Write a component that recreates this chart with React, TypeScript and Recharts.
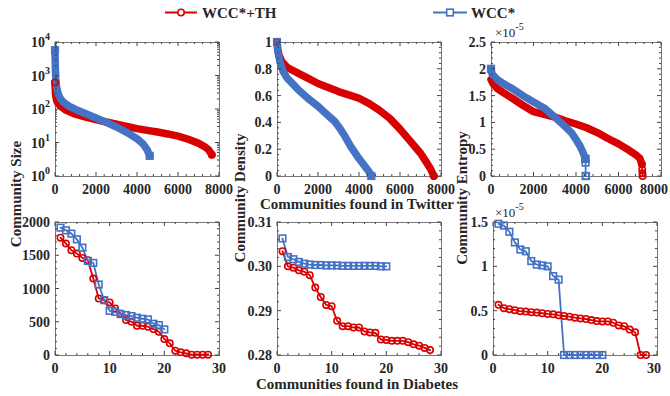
import React from "react";
import { LineChart, Line, XAxis, YAxis } from "recharts";

const RED = "#d80000";
const BLUE = "#4472c4";
const INK = "#262626";
const FONT = "'Liberation Serif', 'Times New Roman', serif";

type P = [number, number];

// Twitter (top row): [community rank, value]
const twSizeTh: P[] = [
  [0, 620], [10, 420], [30, 260], [80, 180], [150, 145], [300, 118], [500, 95],
  [1000, 70], [1500, 57], [2000, 48], [2500, 41], [3000, 35], [3500, 30],
  [4000, 26], [4500, 23], [5000, 20.5], [5500, 18], [6000, 15.5], [6500, 12.5],
  [7000, 9.5], [7300, 7.5], [7500, 6], [7650, 4.3],
];
const twSizeWcc: P[] = [
  [0, 5700], [8, 3000], [20, 1500], [40, 800], [80, 450], [150, 290], [250, 210],
  [400, 160], [700, 120], [1000, 97], [1500, 72], [2000, 54], [2500, 40],
  [3000, 29], [3500, 20], [4000, 13], [4300, 9], [4500, 6], [4620, 4],
];
const twDenTh: P[] = [
  [0, 1], [30, 0.95], [100, 0.9], [250, 0.85], [500, 0.81], [1000, 0.77],
  [1500, 0.73], [2000, 0.69], [2500, 0.66], [3000, 0.63], [3500, 0.605],
  [4000, 0.58], [4500, 0.54], [5000, 0.49], [5500, 0.43], [6000, 0.35],
  [6500, 0.26], [7000, 0.17], [7300, 0.1], [7500, 0.05], [7650, 0],
];
const twDenWcc: P[] = [
  [0, 1], [50, 0.92], [150, 0.85], [300, 0.78], [500, 0.73], [1000, 0.65],
  [1500, 0.58], [2000, 0.52], [2500, 0.45], [2800, 0.41], [3000, 0.37],
  [3300, 0.3], [3600, 0.22], [4000, 0.13], [4300, 0.07], [4500, 0.03], [4600, 0],
];
const twEntTh: P[] = [
  [0, 1.8e-5], [100, 1.72e-5], [300, 1.63e-5], [600, 1.55e-5], [1000, 1.45e-5],
  [1500, 1.32e-5], [2000, 1.2e-5], [2500, 1.15e-5], [3000, 1.1e-5],
  [3500, 1.03e-5], [4000, 0.97e-5], [4500, 0.9e-5], [5000, 0.81e-5],
  [5500, 0.7e-5], [6000, 0.6e-5], [6500, 0.48e-5], [6800, 0.4e-5],
  [7000, 0.33e-5], [7100, 0.22e-5],
];
const twEntThTail: P[] = [[7100, 0.22e-5], [7115, 0.12e-5], [7125, 0.05e-5], [7135, 0]];
const twEntWcc: P[] = [
  [0, 2.0e-5], [50, 1.9e-5], [300, 1.8e-5], [600, 1.72e-5], [1000, 1.63e-5],
  [1500, 1.5e-5], [2000, 1.38e-5], [2500, 1.27e-5], [3000, 1.1e-5],
  [3500, 0.92e-5], [3800, 0.8e-5], [4000, 0.68e-5], [4200, 0.55e-5],
  [4350, 0.42e-5], [4440, 0.32e-5],
];
const twEntWccTail: P[] = [[4440, 0.32e-5], [4450, 0.25e-5], [4455, 0], [4470, 0]];

// Diabetes (bottom row): values for communities 1..n
const dbSizeTh = [1765, 1675, 1575, 1525, 1460, 1425, 1150, 850, 825, 790, 700, 625, 525, 500, 440, 440, 425, 390, 350, 240, 175, 65, 40, 25, 5, 5, 5, 5];
const dbSizeWcc = [1915, 1875, 1825, 1740, 1615, 1415, 1385, 1060, 825, 665, 650, 615, 600, 585, 560, 545, 535, 470, 450, 385];
const dbDenTh = [0.3034, 0.3, 0.2997, 0.2991, 0.2988, 0.298, 0.2952, 0.2931, 0.2913, 0.291, 0.2877, 0.2865, 0.2865, 0.2862, 0.2862, 0.2853, 0.2851, 0.285, 0.2835, 0.2834, 0.2832, 0.2832, 0.2832, 0.2829, 0.2824, 0.2821, 0.2816, 0.2811];
const dbDenWcc = [0.3063, 0.3021, 0.3016, 0.301, 0.3006, 0.3004, 0.3003, 0.3003, 0.3002, 0.3002, 0.3002, 0.3001, 0.3001, 0.3001, 0.3001, 0.3001, 0.3001, 0.3001, 0.3, 0.3];
const dbEntTh = [0.566e-5, 0.528e-5, 0.517e-5, 0.505e-5, 0.494e-5, 0.49e-5, 0.482e-5, 0.478e-5, 0.471e-5, 0.463e-5, 0.459e-5, 0.448e-5, 0.44e-5, 0.432e-5, 0.421e-5, 0.413e-5, 0.406e-5, 0.394e-5, 0.383e-5, 0.379e-5, 0.379e-5, 0.364e-5, 0.333e-5, 0.325e-5, 0.287e-5, 0.256e-5, 0, 0];
const dbEntWcc = [1.48e-5, 1.46e-5, 1.39e-5, 1.27e-5, 1.19e-5, 1.17e-5, 1.06e-5, 1.02e-5, 1.01e-5, 1.0e-5, 0.89e-5, 0.85e-5, 0, 0, 0, 0, 0, 0, 0, 0];

// tick labels
const twX = [0, 2000, 4000, 6000, 8000];
const dbX = [0, 10, 20, 30];
const sizeLogY = [1, 10, 100, 1000, 10000];
const twDenY = [0, 0.2, 0.4, 0.6, 0.8, 1];
const twEntY = [0, 0.5e-5, 1e-5, 1.5e-5, 2e-5, 2.5e-5];
const dbSizeY = [0, 500, 1000, 1500, 2000];
const dbDenY = [0.28, 0.29, 0.3, 0.31];
const dbEntY = [0, 0.5e-5, 1e-5, 1.5e-5];

const steps = (a: number, b: number, s: number) => {
  const out: number[] = [];
  for (let v = a; v <= b + s / 1000; v += s) out.push(+v.toPrecision(8));
  return out;
};
const logMinor: number[] = [];
[1, 10, 100, 1000].forEach((d) => [2, 3, 4, 5, 6, 7, 8, 9].forEach((k) => logMinor.push(d * k)));

const pts = (arr: P[]) => arr.map(([x, y]) => ({ x, y }));
const idx = (arr: number[]) => arr.map((y, i) => ({ x: i + 1, y }));
const isMaj = (arr: number[], v: number) =>
  arr.some((m) => Math.abs(m - v) <= Math.abs(m) * 1e-6 + 1e-15);

type Series = {
  data: { x: number; y: number }[];
  color: string;
  mark: "o" | "s";
  band?: boolean;
  ends?: boolean;
};

const marker = (color: string, mark: "o" | "s", cx: number, cy: number, key: string) =>
  mark === "o" ? (
    <circle key={key} cx={cx} cy={cy} r={3.2} fill="none" stroke={color} strokeWidth={1.6} />
  ) : (
    <rect key={key} x={cx - 3.3} y={cy - 3.3} width={6.6} height={6.6} fill="none" stroke={color} strokeWidth={1.6} />
  );

function Panel(props: {
  left: number; top: number; w: number; h: number;
  xDom: number[]; xMaj: number[]; xMin: number[];
  yDom: number[]; yMaj: number[]; yMin: number[];
  log?: boolean; yFmt: (v: number) => string; series: Series[];
}) {
  const { left, top, w, h, xDom, xMaj, xMin, yDom, yMaj, yMin, log, yFmt, series } = props;
  const ML = 50, MT = 20, MR = 30, MB = 30;
  const yb = MT + h;

  const XTick = (p: any) => {
    const x = p.x;
    const v = p.payload.value;
    const major = isMaj(xMaj, v);
    const len = major ? 4 : 2;
    // keep the last label inside the 670px page
    const gx = left - ML + x;
    const shift = Math.min(0, 668 - (gx + 14));
    return (
      <g>
        <line x1={x} x2={x} y1={yb} y2={yb - len} stroke="#444" />
        <line x1={x} x2={x} y1={MT} y2={MT + len} stroke="#444" />
        {major && (
          <text x={x + shift} y={yb + 18} textAnchor="middle" fontFamily={FONT} fontWeight="bold" fontSize={14} fill={INK}>
            {v}
          </text>
        )}
      </g>
    );
  };

  const YTick = (p: any) => {
    const y = p.y;
    const v = p.payload.value;
    const major = isMaj(yMaj, v);
    const len = major ? 4 : 2;
    let label: React.ReactNode = null;
    if (major) {
      label = log ? (
        <text x={ML - 5} y={y + 5} textAnchor="end" fontFamily={FONT} fontWeight="bold" fontSize={14} fill={INK}>
          10<tspan dy={-7} fontSize={10}>{Math.round(Math.log10(v))}</tspan>
        </text>
      ) : (
        <text x={ML - 5} y={y + 5} textAnchor="end" fontFamily={FONT} fontWeight="bold" fontSize={14} fill={INK}>
          {yFmt(v)}
        </text>
      );
    }
    return (
      <g>
        <line x1={ML} x2={ML + len} y1={y} y2={y} stroke="#444" />
        <line x1={ML + w} x2={ML + w - len} y1={y} y2={y} stroke="#444" />
        {label}
      </g>
    );
  };

  const xTicks = [...xMaj, ...xMin.filter((v) => !isMaj(xMaj, v))];
  const yTicks = [...yMaj, ...yMin.filter((v) => !isMaj(yMaj, v))];
  const W = w + ML + MR;
  const H = h + MT + MB;

  return (
    <div style={{ position: "absolute", left: left - ML, top: top - MT, width: W, height: H }}>
      <div
        style={{
          position: "absolute", left: ML, top: MT, width: w + 1, height: h + 1,
          border: "1px solid #777", boxSizing: "border-box",
        }}
      />
      <div style={{ position: "absolute", left: 0, top: 0 }}>
        <LineChart width={W} height={H} margin={{ top: MT, right: MR, bottom: 0, left: 0 }} style={{ overflow: "visible" }}>
          <XAxis
            xAxisId="x" type="number" dataKey="x" domain={xDom} ticks={xTicks} interval={0}
            tick={XTick} tickLine={false} axisLine={false} height={MB}
          />
          <YAxis
            yAxisId="y" type="number" scale={log ? "log" : "linear"} domain={yDom} ticks={yTicks}
            interval={0} tick={YTick} tickLine={false} axisLine={false} width={ML}
          />
          {series.map((s, i) => (
            <Line
              key={i}
              xAxisId="x"
              yAxisId="y"
              data={s.data}
              dataKey="y"
              stroke={s.color}
              strokeWidth={s.band ? 7.5 : 1.8}
              strokeLinejoin="round"
              strokeLinecap="round"
              isAnimationActive={false}
              activeDot={false}
              dot={(p: any) => {
                const n = s.data.length;
                const show = s.band ? s.ends && (p.index === 0 || p.index === n - 1) : true;
                if (!show) return <g key={`d${i}-${p.index}`} />;
                return marker(s.color, s.mark, p.cx, p.cy, `d${i}-${p.index}`);
              }}
            />
          ))}
        </LineChart>
      </div>
    </div>
  );
}

const entFmt = (v: number) => String(+(v * 1e5).toFixed(1));

export default function App() {
  const labelStyle = { fontFamily: FONT, fontWeight: "bold" as const, fontSize: 15, fill: INK };
  return (
    <div style={{ position: "absolute", left: 0, top: 0, width: 670, height: 396, background: "#fff", overflow: "hidden" }}>
      <Panel
        left={55} top={42} w={164} h={134}
        xDom={[0, 8000]} xMaj={twX} xMin={steps(0, 8000, 400)}
        yDom={[1, 10000]} yMaj={sizeLogY} yMin={logMinor} log yFmt={String}
        series={[
          { data: pts(twSizeTh), color: RED, mark: "o", band: true, ends: true },
          { data: pts(twSizeWcc), color: BLUE, mark: "s", band: true, ends: true },
        ]}
      />
      <Panel
        left={277} top={42} w={164} h={134}
        xDom={[0, 8000]} xMaj={twX} xMin={steps(0, 8000, 400)}
        yDom={[0, 1]} yMaj={twDenY} yMin={steps(0, 1, 0.04)} yFmt={String}
        series={[
          { data: pts(twDenTh), color: RED, mark: "o", band: true, ends: true },
          { data: pts(twDenWcc), color: BLUE, mark: "s", band: true, ends: true },
        ]}
      />
      <Panel
        left={491} top={42} w={170} h={134}
        xDom={[0, 8000]} xMaj={twX} xMin={steps(0, 8000, 400)}
        yDom={[0, 2.5e-5]} yMaj={twEntY} yMin={steps(0, 2.5e-5, 0.1e-5)} yFmt={entFmt}
        series={[
          { data: pts(twEntTh), color: RED, mark: "o", band: true },
          { data: pts(twEntThTail), color: RED, mark: "o" },
          { data: pts(twEntWcc), color: BLUE, mark: "s", band: true, ends: true },
          { data: pts(twEntWccTail), color: BLUE, mark: "s" },
        ]}
      />
      <Panel
        left={55} top={222} w={164} h={133}
        xDom={[0, 30]} xMaj={dbX} xMin={steps(0, 30, 2)}
        yDom={[0, 2000]} yMaj={dbSizeY} yMin={steps(0, 2000, 100)} yFmt={String}
        series={[
          { data: idx(dbSizeTh), color: RED, mark: "o" },
          { data: idx(dbSizeWcc), color: BLUE, mark: "s" },
        ]}
      />
      <Panel
        left={277} top={222} w={164} h={133}
        xDom={[0, 30]} xMaj={dbX} xMin={steps(0, 30, 2)}
        yDom={[0.28, 0.31]} yMaj={dbDenY} yMin={steps(0.28, 0.31, 0.002)} yFmt={(v) => v.toFixed(2)}
        series={[
          { data: idx(dbDenTh), color: RED, mark: "o" },
          { data: idx(dbDenWcc), color: BLUE, mark: "s" },
        ]}
      />
      <Panel
        left={493} top={222} w={164} h={133}
        xDom={[0, 30]} xMaj={dbX} xMin={steps(0, 30, 2)}
        yDom={[0, 1.5e-5]} yMaj={dbEntY} yMin={steps(0, 1.5e-5, 0.1e-5)} yFmt={entFmt}
        series={[
          { data: idx(dbEntTh), color: RED, mark: "o" },
          { data: idx(dbEntWcc), color: BLUE, mark: "s" },
        ]}
      />

      <svg width={670} height={396} style={{ position: "absolute", left: 0, top: 0, pointerEvents: "none" }}>
        <line x1={165} x2={197} y1={12.5} y2={12.5} stroke={RED} strokeWidth={2} />
        <circle cx={181} cy={12.5} r={3.2} fill="#fff" stroke={RED} strokeWidth={1.6} />
        <text x={202} y={17.5} {...labelStyle}>WCC*+TH</text>
        <line x1={433} x2={467} y1={12.5} y2={12.5} stroke={BLUE} strokeWidth={2} />
        <rect x={446.7} y={9.2} width={6.6} height={6.6} fill="#fff" stroke={BLUE} strokeWidth={1.6} />
        <text x={471} y={17.5} {...labelStyle}>WCC*</text>

        <text transform="translate(21,194) rotate(-90)" textAnchor="middle" {...labelStyle}>Community Size</text>
        <text transform="translate(245,198) rotate(-90)" textAnchor="middle" {...labelStyle}>Community Density</text>
        <text transform="translate(467,198) rotate(-90)" textAnchor="middle" {...labelStyle}>Community Entropy</text>
        <text x={357} y={209} textAnchor="middle" {...labelStyle}>Communities found in Twitter</text>
        <text x={357} y={389} textAnchor="middle" {...labelStyle}>Communities found in Diabetes</text>

        <text x={495} y={37} fontFamily={FONT} fontSize={13} fill={INK}>
          ×10<tspan dy={-7} fontSize={10}>-5</tspan>
        </text>
        <text x={495} y={217} fontFamily={FONT} fontSize={13} fill={INK}>
          ×10<tspan dy={-7} fontSize={10}>-5</tspan>
        </text>
      </svg>
    </div>
  );
}
